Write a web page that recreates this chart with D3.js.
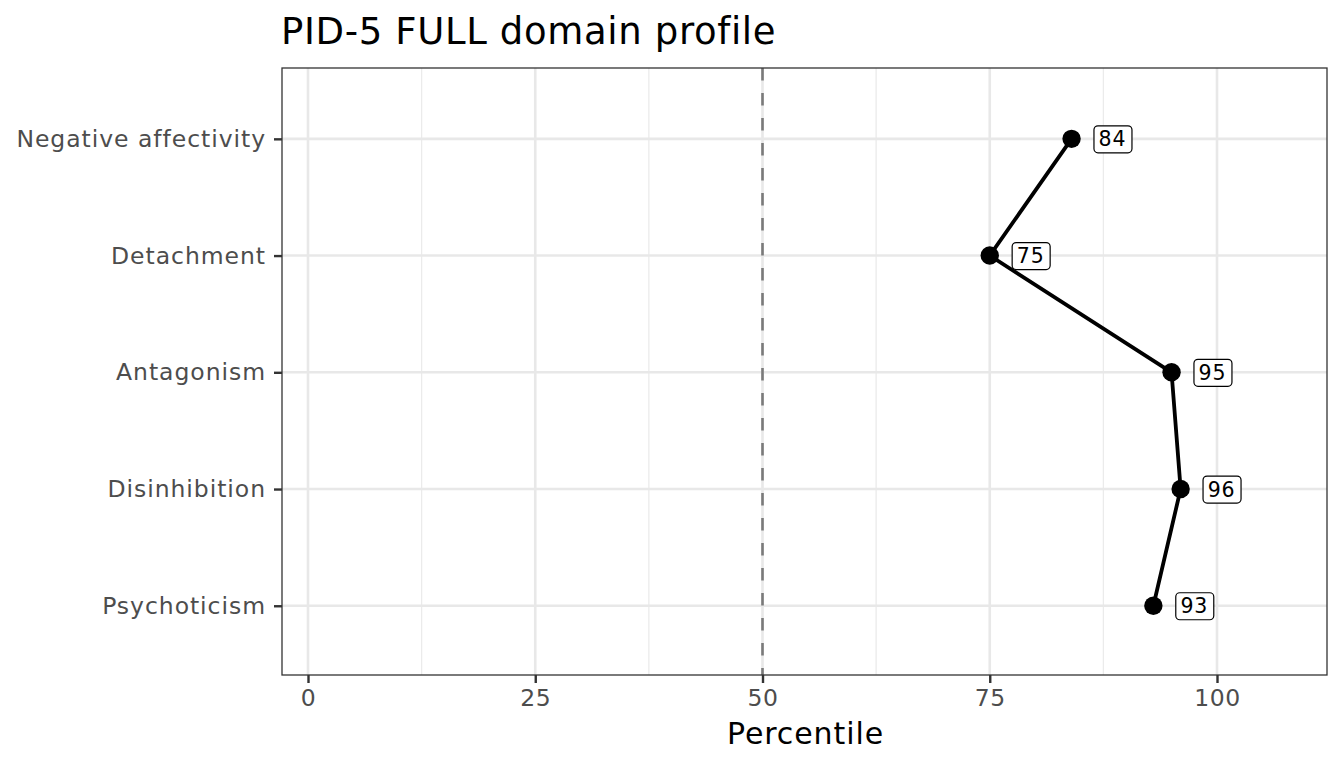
<!DOCTYPE html>
<html>
<head>
<meta charset="utf-8">
<script src="https://cdn.jsdelivr.net/npm/d3@7"></script>
<style>
  html, body { margin: 0; padding: 0; background: #ffffff; }
  svg { display: block; font-family: "DejaVu Sans", sans-serif; }
</style>
</head>
<body>
<svg id="chart" width="1344" height="768"></svg>
<script>
// ---- data ----
const domains = ["Negative affectivity", "Detachment", "Antagonism", "Disinhibition", "Psychoticism"];
const percentiles = [84, 75, 95, 96, 93];
const xTicks = [0, 25, 50, 75, 100];
const xMinorTicks = [12.5, 37.5, 62.5, 87.5];
const referenceLine = 50;
const titleText = "PID-5 FULL domain profile";
const xTitle = "Percentile";

// ---- layout ----
const svg = d3.select("#chart");
const panel = { left: 282, right: 1327, top: 68, bottom: 675 };

const x = d3.scaleLinear().domain([0, 100]).range([308, 1217]);
const y = d3.scalePoint().domain(domains)
  .range([panel.top + 0.8, panel.bottom + 0.8]).padding(0.6);

const g = svg.append("g");

g.append("rect").attr("x", panel.left).attr("y", panel.top)
  .attr("width", panel.right - panel.left).attr("height", panel.bottom - panel.top)
  .attr("fill", "#ffffff");

// minor gridlines
g.selectAll(".minor").data(xMinorTicks).join("line")
  .attr("x1", d => x(d)).attr("x2", d => x(d))
  .attr("y1", panel.top).attr("y2", panel.bottom)
  .attr("stroke", "#ebebeb").attr("stroke-width", 1.3);

// major gridlines vertical
g.selectAll(".majorx").data(xTicks).join("line")
  .attr("x1", d => x(d)).attr("x2", d => x(d))
  .attr("y1", panel.top).attr("y2", panel.bottom)
  .attr("stroke", "#e8e8e8").attr("stroke-width", 2.6);

// major gridlines horizontal
g.selectAll(".majory").data(domains).join("line")
  .attr("x1", panel.left).attr("x2", panel.right)
  .attr("y1", d => y(d)).attr("y2", d => y(d))
  .attr("stroke", "#e8e8e8").attr("stroke-width", 2.6);

// reference dashed line
g.append("line")
  .attr("x1", x(referenceLine)).attr("x2", x(referenceLine))
  .attr("y1", panel.top).attr("y2", panel.bottom)
  .attr("stroke", "#7a7a7a").attr("stroke-width", 2.6)
  .attr("stroke-dasharray", "12.5,12.5");

// profile line
const data = domains.map((d, i) => ({ domain: d, value: percentiles[i] }));
g.append("path").datum(data)
  .attr("d", d3.line().x(d => x(d.value)).y(d => y(d.domain)))
  .attr("fill", "none").attr("stroke", "#000").attr("stroke-width", 3.8);

// points
g.selectAll(".pt").data(data).join("circle")
  .attr("cx", d => x(d.value)).attr("cy", d => y(d.domain))
  .attr("r", 9.2).attr("fill", "#000");

// labels
const labelOffset = 4.5;
const lab = g.selectAll(".lab").data(data).join("g")
  .attr("transform", d => `translate(${x(d.value + labelOffset)},${y(d.domain)})`);
lab.append("text")
  .attr("text-anchor", "middle").attr("dy", "0.37em")
  .attr("font-size", 20.5).attr("letter-spacing", 0.8).attr("fill", "#000")
  .text(d => d.value);
lab.each(function() {
  const w = 38, h = 27;
  d3.select(this).insert("rect", "text")
    .attr("x", -w / 2 + 0.5).attr("y", -h / 2 + 0.5)
    .attr("width", w).attr("height", h)
    .attr("rx", 4).attr("ry", 4)
    .attr("fill", "#fff").attr("stroke", "#000").attr("stroke-width", 1.2);
});

// panel border
g.append("rect").attr("x", panel.left).attr("y", panel.top)
  .attr("width", panel.right - panel.left).attr("height", panel.bottom - panel.top)
  .attr("fill", "none").attr("stroke", "#333333").attr("stroke-width", 1.3);

// x axis
const xAxis = g.append("g").attr("transform", `translate(0,${panel.bottom})`)
  .call(d3.axisBottom(x).tickValues(xTicks).tickSize(8).tickPadding(6).tickFormat(d3.format("d")));
xAxis.select(".domain").remove();
xAxis.selectAll(".tick line").attr("stroke", "#333333").attr("stroke-width", 2.4);
xAxis.selectAll(".tick text").attr("fill", "#4d4d4d").attr("font-size", 23.5)
  .attr("letter-spacing", 0.6).attr("font-family", "DejaVu Sans");

// y axis
const yAxis = g.append("g").attr("transform", `translate(${panel.left},0)`)
  .call(d3.axisLeft(y).tickSize(8).tickPadding(8));
yAxis.select(".domain").remove();
yAxis.selectAll(".tick line").attr("stroke", "#333333").attr("stroke-width", 2.4);
yAxis.selectAll(".tick text").attr("fill", "#4d4d4d").attr("font-size", 23.5)
  .attr("letter-spacing", 0.95).attr("font-family", "DejaVu Sans");

// axis title
svg.append("text").attr("x", (panel.left + panel.right) / 2 + 1).attr("y", 744)
  .attr("text-anchor", "middle").attr("font-size", 30).attr("letter-spacing", 0.9)
  .attr("fill", "#000")
  .text(xTitle);

// title
svg.append("text").attr("x", panel.left - 1).attr("y", 44)
  .attr("font-size", 37).attr("letter-spacing", 0.65).attr("fill", "#000")
  .text(titleText);
</script>
</body>
</html>
